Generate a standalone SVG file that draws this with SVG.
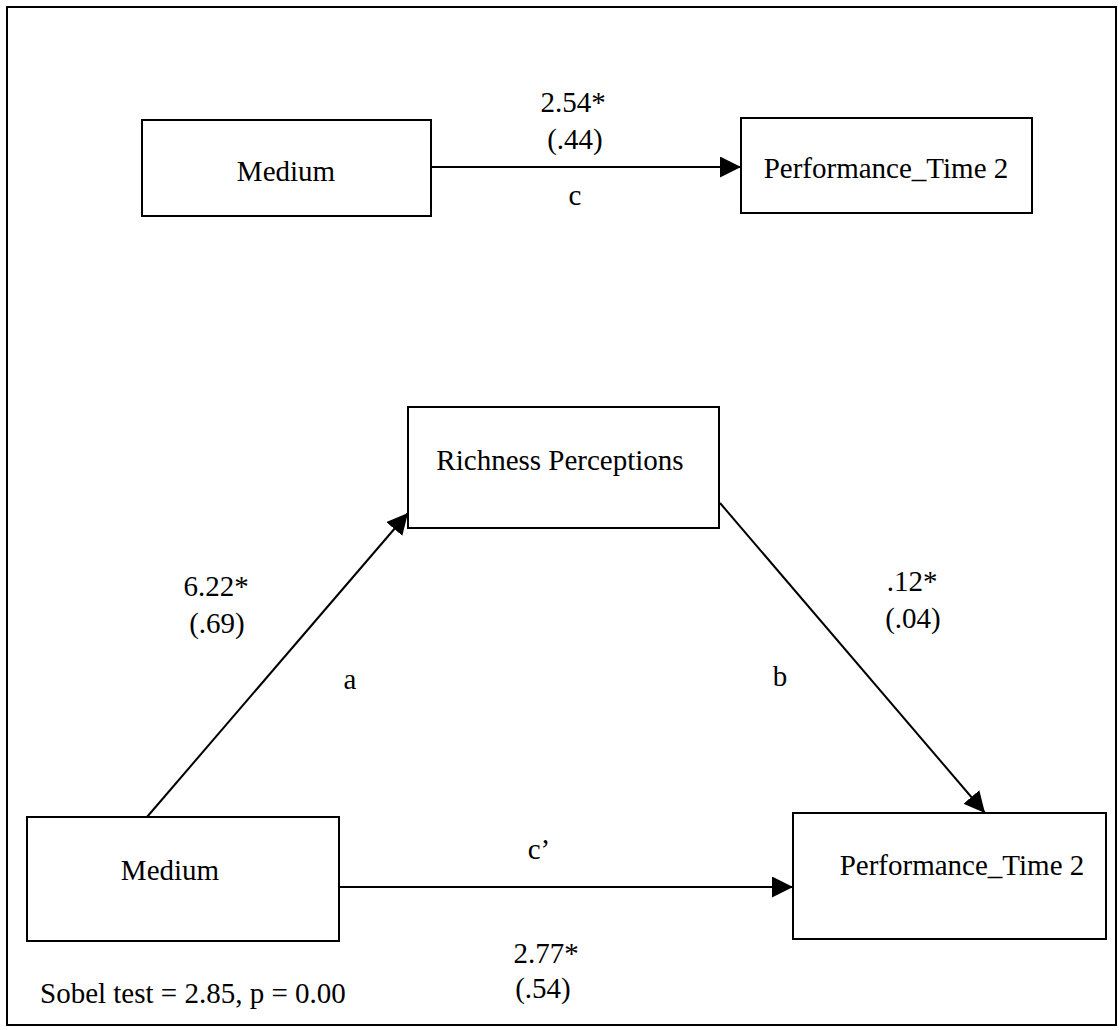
<svg xmlns="http://www.w3.org/2000/svg" width="1120" height="1030" viewBox="0 0 1120 1030">
<style>
.box{fill:#fff;stroke:#000;stroke-width:2}
.t{font-family:"Liberation Serif","Times New Roman",serif;font-size:29px;fill:#000}
.m{text-anchor:middle}
.edge{stroke:#000;stroke-width:2;fill:none;marker-end:url(#arr)}
</style>
<defs>
<marker id="arr" markerUnits="userSpaceOnUse" markerWidth="21" markerHeight="21" refX="21" refY="10.5" orient="auto">
<path d="M0,0 L21,10.5 L0,21 z" fill="#000"/>
</marker>
</defs>
<rect width="1120" height="1030" fill="#fff"/>
<rect x="7" y="7" width="1109" height="1018" fill="none" stroke="#000" stroke-width="2"/>
<g id="connectors">
<line class="edge" x1="431" y1="167" x2="741" y2="167"/>
<line class="edge" x1="147" y1="817" x2="408" y2="513"/>
<line class="edge" x1="720" y1="503" x2="985" y2="813"/>
<line class="edge" x1="339" y1="887" x2="793" y2="887"/>
</g>
<g id="medium-top"><rect class="box" x="142" y="120" width="289" height="96"/><text class="t m" x="286" y="181">Medium</text></g>
<g id="performance-top"><rect class="box" x="741" y="118" width="291" height="95"/><text class="t m" x="886" y="178">Performance_Time 2</text></g>
<g id="richness"><rect class="box" x="408" y="407" width="311" height="121"/><text class="t m" x="560" y="470">Richness Perceptions</text></g>
<g id="medium-bottom"><rect class="box" x="27" y="817" width="312" height="124"/><text class="t m" x="170" y="880">Medium</text></g>
<g id="performance-bottom"><rect class="box" x="793" y="813" width="313" height="126"/><text class="t m" x="962" y="875">Performance_Time 2</text></g>
<g id="labels">
<text class="t m" x="573" y="112">2.54*</text>
<text class="t m" x="575" y="149">(.44)</text>
<text class="t m" x="575" y="205">c</text>
<text class="t m" x="216" y="596">6.22*</text>
<text class="t m" x="217" y="633">(.69)</text>
<text class="t m" x="350" y="689">a</text>
<text class="t m" x="912" y="591">.12*</text>
<text class="t m" x="913" y="628">(.04)</text>
<text class="t m" x="780" y="686">b</text>
<text class="t m" x="539" y="859">c’</text>
<text class="t m" x="546" y="963">2.77*</text>
<text class="t m" x="543" y="998">(.54)</text>
<text class="t" x="40" y="1003">Sobel test = 2.85, p = 0.00</text>
</g>
</svg>
